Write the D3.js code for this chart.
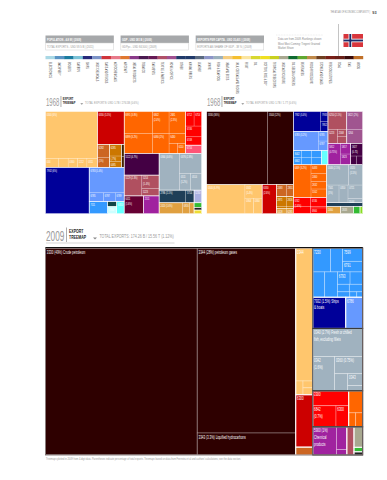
<!DOCTYPE html>
<html>
<head>
<meta charset="utf-8">
<script src="https://cdn.jsdelivr.net/npm/d3@7"></script>
<style>
  html, body { margin: 0; padding: 0; background: #fff; }
  text { font-family: "Liberation Sans", sans-serif; }
</style>
</head>
<body>
<div id="main"></div>
<script>
// community strip under the header boxes
var communities = ["ELECTRONICS", "MACHINERY", "BOILERS", "CARBON", "SHIPS", "MISC CHEMICALS", "CARS AND TRUCKS", "AGROCHEMICALS", "AIRCRAFT", "METAL PRODUCTS", "TOBACCO", "GARMENTS", "TEXTILE & FABRICS", "HOME & OFFICE", "OTHER", "ANIMAL FIBERS", "LEATHER", "MINING", "FISH & SEAFOOD", "MEAT AND EGGS", "MILK, CEREALS AND FLOURS", "FRUIT", "OIL", "COTTON, RICE & SOY", "TROPICAL TREECROPS", "MISC AGRICULTURE", "OIL SEEDS & OTHERS", "BEVERAGES", "FOOD PROCESSING", "STONES AND GLASS", "PRECIOUS STONES", "COAL", "GAS", "WOOD"];
var stripColours = ["#a9d8e5", "#5a94c4", "#1b7ca0", "#7cc3d8", "#26297a", "#7c94c8", "#d0343a", "#e87a8a", "#e07830", "#8a3a8a", "#4a1a50", "#661a55", "#b05068", "#a05090", "#203a6a", "#203a6a", "#5a6a80", "#8c95c8", "#9ab0bc", "#f5cd80", "#f5bf30", "#fbe5a0", "#d8d830", "#f0e020", "#c8d020", "#a8a890", "#0f6a30", "#60a830", "#c08a4a", "#704020", "#7a2018", "#6a2018", "#3a0a0a", "#c07028"];

// treemap blocks
var blockNames = ["oil", "seafood", "darkred", "brown", "ochre", "tan", "tailbrown", "navy", "periwinkle", "blue", "cyan", "palecyan", "deepteal", "orange", "red", "pink", "darkpurple", "maroon", "rose", "mauve", "purple", "grey", "slate", "lavender", "khaki", "green", "lime", "yellow", "nearblack"];
var blockColours = ["#2e0000", "#ffc66d", "#cc0000", "#cc6622", "#cc7700", "#e0a040", "#442200", "#000099", "#6699ff", "#3399ff", "#66ffff", "#ccffff", "#114444", "#ff6600", "#ff0000", "#ff5577", "#440044", "#660033", "#b05060", "#a05590", "#a0229f", "#a0b2bf", "#1f3f58", "#aab0e0", "#a8a890", "#33bb33", "#88dd22", "#eedd33", "#222222"];

// which blocks sit together in the 2009 map
var families2009 = { blue: "m", navy: "m", periwinkle: "m", grey: "g", red: "r", orange: "r", purple: "c", rose: "c", khaki: "c", green: "c", nearblack: "c" };

// entries are [label, value, block] or [block, children]; values are relative export value
var tree1968a = ["", [
  ["", [
    ["", [
      ["seafood", [
        ["0340 (6%)", 220],
        ["", [["034", 10.8], ["", 7.6], ["0360", 7.6], ["1212", 7.6], ["0311", 8.6]]]
      ]],
      ["", [
        ["darkred", [["6330 (5.5%)", 79]]],
        ["", [
          ["brown", [["6282", 14.4], ["(1%)", 10.4]]],
          ["ochre", [["6285", 12.6], ["(.7%)", 5.8], ["0485", 6.5]]],
          ["tailbrown", [["", 3], ["", 2.6]]]
        ]]
      ]]
    ]],
    ["", [
      ["navy", [["7932 (6%)", 182]]],
      ["", [
        ["periwinkle", [["6783 (5.4%)", 80]]],
        ["periwinkle", [["6785", 11.5], ["6787", 9.5], ["6789", 7.2]]],
        ["", [
          ["blue", [["7111", 20]]],
          ["", [["", 4, "deepteal"], ["7264", 5.7, "palecyan"]]],
          ["cyan", [["6350", 8]]]
        ]]
      ]]
    ]]
  ]],
  ["", [
    ["", [
      ["orange", [
        ["", [["6891 (3.8%)", 56], ["6899 (3.2%)", 51]]],
        ["", [
          ["", [["6842|(2.4%)", 33], ["2681|(2.3%)", 33]]],
          ["", [["6480 (2%)", 30], ["", [["6430", 15], ["", [["", 7.5], ["6110", 7.5]]]]]]]
        ]]
      ]],
      ["red", [
        ["", [["6712", 11], ["6714", 10]]],
        ["6746", 15.4],
        ["6748", 12],
        ["6716", 12, "pink"]
      ]]
    ]],
    ["", [
      ["", [
        ["darkpurple", [["5122 (4.7%)", 68]]],
        ["rose", [["5129 (2.3%)", 33], ["", [["5214|(1.4%)", 21], ["5223", 11.4]]]]],
        ["", [
          ["maroon", [["6411|(1.6%)", 31]]],
          ["purple", [["2511", 25]]]
        ]]
      ]],
      ["", [
        ["grey", [
          ["0364 (4.6%)", 67],
          ["", [["0376 (2.8%)", 40], ["", [["0511|(1.2%)", 17], ["0514", 16.5]]]]]
        ]],
        ["", [["2786 (2.1%)", 30.4, "slate"], ["5714", 9.5, "slate"], ["5230", 8.7, "lavender"]]],
        ["", [
          ["tan", [["2420 (1.6%)", 23], ["0816", 7], ["", 4.3]]],
          ["", [["", 3.2, "green"], ["", 1.8, "nearblack"], ["", 2.5, "yellow"]]]
        ]]
      ]]
    ]]
  ]]
]];

var tree1968b = ["", [
  ["", [
    ["oil", [["3330 (36%)", 403], ["3344 (12%)", 169]]],
    ["", [
      ["seafood", [
        ["0340 (6.9%)", 100],
        ["", [["0342|(1.4%)", 21], ["", [["0364", 12], ["0360", 12]]]]]
      ]],
      ["darkred", [["6330|(2.6%)", 37]]],
      ["", [
        ["", [["2483", 11, "brown"], ["2851", 7.5, "brown"]]],
        ["", [["2871", 10.5, "ochre"], ["2826", 7.4, "ochre"]]],
        ["", [["6328", 4.8, "tan"], ["6285", 3.4, "tan"]]]
      ]]
    ]]
  ]],
  ["", [
    ["", [
      ["", [
        ["navy", [["7932 (3.4%)", 49], ["", [["7933", 6.8], ["7852", 6.4]]]]],
        ["periwinkle", [["6783 (3.2%)", 43.5], ["", [["6785", 8.4], ["6787", 8.4]]]]],
        ["", [
          ["blue", [
            ["", [["8442", 5.3], ["6842", 5.3]]],
            ["", [["", 6.3], ["", 6.3]]],
            ["", [["", 6.3], ["", 6.3]]]
          ]],
          ["cyan", [["", 8]]]
        ]]
      ]],
      ["", [
        ["", [["6250 (2.1%)", 30, "rose"], ["5822 (2%)", 26, "mauve"]]],
        ["", [
          ["rose", [["5223", 12], ["", [["2568", 5.9], ["", 5.9]]]]],
          ["mauve", [["5264", 20]]]
        ]],
        ["", [
          ["purple", [["5812|(0.75%)", 24], ["", [["5817", 10], ["5823", 10]]]]],
          ["darkpurple", [["5827|(0.75)", 13.7], ["", [["", 4.7], ["", 4.7]]]]]
        ]]
      ]]
    ]],
    ["", [
      ["", [
        ["orange", [
          ["6469 (3.2%)", 52],
          ["", [["6483", 12.7], ["2460", 11.3], ["2632", 10.3], ["5162", 11.8]]]
        ]],
        ["red", [
          ["6742|(1.6%)", 25.5],
          ["", [["6746", 15.3], ["6900", 8.2]]]
        ]]
      ]],
      ["", [
        ["grey", [
          ["", [["0346 (2.5%)", 40.3], ["0320|(1.5%)", 25.6]]],
          ["", [
            ["7341|(1%)", 19.6],
            ["0350", 14.3],
            ["", [["0721", 17.6], ["5544", 5.7]]]
          ]]
        ]],
        ["slate", [["", 13]]],
        ["", [["2460", 8.8, "tan"], ["2633", 8, "khaki"], ["", 4.2, "green"], ["", 1.7, "lime"]]]
      ]]
    ]]
  ]]
]];

var tree2009 = ["", [
  ["oil", [
    ["3330 (49%) Crude petroleum", 2813],
    ["", [["3344 (28%) petroleum gases", 1632], ["3343 (3.3%) Liquified hydrocarbons", 194]]]
  ]],
  ["", [
    ["seafood", [
      ["0344", 203],
      ["", [["", 9], ["", [["", 6], ["", 6]]]]]
    ]],
    ["darkred", [["6300", 80]]],
    ["brown", [["", 12]]]
  ]],
  ["", [
    ["blue", [
      ["7230", 38], ["", 26],
      ["", [["7599", 24], ["6791", 19]]]
    ]],
    ["blue", [
      ["", 27], ["", 29],
      ["", [
        ["", [["6793", 14], ["", 14]]],
        ["", [["", 8], ["", 9]]],
        ["", [["", 6], ["", 3.4], ["", 2.9]]]
      ]]
    ]],
    ["", [["7932 (1.5%) Ships|& boats", 92, "navy"], ["6786", 47.5, "periwinkle"]]],
    ["grey", [
      ["0340 (2.7%) Fresh or chilled|fish, excluding fillets", 126],
      ["", [
        ["0342|(1.6%)", 67],
        ["", [
          ["0360 (0.75%)", 43],
          ["", [["", 20], ["", [["0343", 16], ["", 7]]]]]
        ]]
      ]]
    ]],
    ["", [
      ["red", [
        ["3300", 48],
        ["", [["6842|(0.7%)", 44], ["6300", 24]]]
      ]],
      ["orange", [
        ["", 27.7],
        ["", [["", 8.8], ["", 8.8]]]
      ]]
    ]],
    ["", [
      ["purple", [
        ["5900 (1%)|Chemical|products", 60],
        ["", [["", 21], ["", 5]]]
      ]],
      ["rose", [["", 18]]],
      ["", [["", 16, "khaki"], ["", 3.5, "green"], ["", 2.5, "nearblack"]]]
    ]]
  ]]
]];

var width = 387;
var height = 480;

var svg = d3.select("#main")
  .append("svg")
  .attr("width", width)
  .attr("height", height)
  .style("display", "block");

var blockColour = d3.scaleOrdinal(blockNames, blockColours);

function pickTile(node, x0, y0, x1, y1) {
  // long side gets cut, the arrays are nested to follow it
  if (x1 - x0 >= y1 - y0) d3.treemapDice(node, x0, y0, x1, y1);
  else d3.treemapSlice(node, x0, y0, x1, y1);
}

// the reference uses a condensed face, none is installed so squeeze around the text's own x
function squeeze(el, k) {
  var s = d3.select(el);
  var first = s.select("tspan");
  var ox = +(s.attr("x") || (first.empty() ? 0 : first.attr("x")) || 0);
  var t = s.attr("transform");
  if (t) s.attr("transform", t + " scale(" + k + ",1)");
  else s.attr("transform", "translate(" + ox + ",0) scale(" + k + ",1) translate(" + (-ox) + ",0)");
}

function box(g, leaves, stroke, sw) {
  g.append("rect")
    .attr("x", d3.min(leaves, d => d.x0))
    .attr("y", d3.min(leaves, d => d.y0))
    .attr("width", d3.max(leaves, d => d.x1) - d3.min(leaves, d => d.x0))
    .attr("height", d3.max(leaves, d => d.y1) - d3.min(leaves, d => d.y0))
    .attr("fill", "none")
    .attr("stroke", stroke)
    .attr("stroke-width", sw);
}

function drawTreemap(tree, x0, y0, x1, y1, fontSize, thick) {
  var root = d3.hierarchy(tree, d => Array.isArray(d[1]) ? d[1] : null)
    .sum(d => typeof d[1] === "number" ? d[1] : 0);

  d3.treemap().tile(pickTile).size([x1 - x0, y1 - y0])(root);

  var g = svg.append("g").attr("transform", "translate(" + x0 + "," + y0 + ")");
  var leaves = root.leaves();

  leaves.forEach(d => {
    d.block = d.data[2] || d.ancestors().map(a => a.data[0]).find(n => blockNames.includes(n));
  });

  g.selectAll("rect.leaf")
    .data(leaves)
    .enter()
    .append("rect")
    .attr("class", "leaf")
    .attr("x", d => d.x0)
    .attr("y", d => d.y0)
    .attr("width", d => d.x1 - d.x0)
    .attr("height", d => d.y1 - d.y0)
    .attr("fill", d => blockColour(d.block))
    .attr("stroke", "rgba(255,255,255,0.35)")
    .attr("stroke-width", thick ? 0.8 : 0.5);

  // white lines around each colour, dark ones around the families
  d3.group(leaves, d => d.block).forEach(list => box(g, list, "rgba(255,255,255,0.75)", thick ? 1 : 0.5));
  if (thick) {
    d3.group(leaves.filter(d => families2009[d.block]), d => families2009[d.block])
      .forEach(list => box(g, list, "#3a3a3a", 1));
  }

  var labels = g.selectAll("text.cell")
    .data(leaves.filter(d => d.data[0] !== ""))
    .enter()
    .append("text")
    .attr("class", "cell")
    .attr("font-size", fontSize)
    .attr("fill", "#fff");

  labels.each(function (d) {
    d3.select(this).selectAll("tspan")
      .data(d.data[0].split("|"))
      .enter()
      .append("tspan")
      .attr("x", d.x0 + 1.3)
      .attr("y", (t, i) => d.y0 + fontSize + 0.6 + i * (fontSize + 1.6))
      .text(t => t);
    squeeze(this, thick ? 0.6 : 0.62);
  });

  g.append("rect")
    .attr("width", x1 - x0)
    .attr("height", y1 - y0)
    .attr("fill", "none")
    .attr("stroke", thick ? "#6f6060" : "none")
    .attr("stroke-width", 0.8);
}

function sectionHead(x, y, year, total, big) {
  var k = big ? 1 : 0.73;
  var g = svg.append("g").attr("transform", "translate(" + x + "," + y + ")");
  var yr = g.append("text").attr("x", 0).attr("y", 0).attr("font-size", 15 * k).attr("fill", "#9a9a9a").text(year);
  g.append("line").attr("x1", 20.5 * k).attr("x2", 20.5 * k).attr("y1", -13 * k).attr("y2", 1.5)
    .attr("stroke", "#777").attr("stroke-width", 0.6);
  var a = g.append("text").attr("x", 23 * k).attr("y", -7.6 * k).attr("font-size", 4.9 * k).attr("font-weight", "bold").attr("fill", "#222").text("EXPORT");
  var b = g.append("text").attr("x", 23 * k).attr("y", -1.6 * k).attr("font-size", 4.9 * k).attr("font-weight", "bold").attr("fill", "#222").text("TREEMAP");
  g.append("path").attr("d", d3.line()([[47 * k, -3 * k], [51 * k, -3 * k], [49 * k, -1 * k]])).attr("fill", "#888");
  var c = g.append("text").attr("x", 53.5 * k).attr("y", -2.5 * k).attr("font-size", 6 * k).attr("fill", "#9a9a9a").text(total);
  squeeze(yr.node(), 0.55);
  squeeze(a.node(), 0.72);
  squeeze(b.node(), 0.72);
  squeeze(c.node(), 0.6);
  if (big) {
    g.append("line").attr("x1", 0).attr("x2", 128.5).attr("y1", 2.5).attr("y2", 2.5)
      .attr("stroke", "#aaa").attr("stroke-width", 0.5);
  }
}

// page title
var pageTitle = svg.append("text").attr("x", 370).attr("y", 13.5).attr("text-anchor", "end").attr("font-size", 3.2).attr("fill", "#888")
  .text("THE ATLAS OF ECONOMIC COMPLEXITY |");
squeeze(pageTitle.node(), 0.62);
svg.append("text").attr("x", 376.5).attr("y", 13.5).attr("text-anchor", "end").attr("font-size", 3.8).attr("font-weight", "bold").attr("fill", "#444")
  .text("93");

// header boxes
var headerTop = ["POPULATION - 4.8 M | (2009)", "GDP - USD 381 B | (2009)", "EXPORTS PER CAPITA - USD 35,401 | (2009)"];
var headerBottom = ["TOTAL EXPORTS - USD 59.5 B | (2011)", "GDPpc - USD 84,500 | (2009)", "EXPORTS AS SHARE OF GDP - 38 % | (2009)"];
var boxX = d3.scaleBand().domain(d3.range(3)).range([45.5, 264]).paddingInner(0.09);

headerTop.forEach((t, i) => {
  var x = boxX(i);
  var w = boxX.bandwidth();
  svg.append("rect").attr("x", x).attr("y", 35.5).attr("width", w).attr("height", 7.5).attr("fill", "#a6a8aa");
  svg.append("rect").attr("x", x + 0.25).attr("y", 43).attr("width", w - 0.5).attr("height", 7).attr("fill", "#fff").attr("stroke", "#d0d0d0").attr("stroke-width", 0.5);
  var a = svg.append("text").attr("x", x + 1.5).attr("y", 40.8).attr("font-size", 4.2).attr("font-weight", "bold").attr("fill", "#fff").text(t);
  var b = svg.append("text").attr("x", x + 1.5).attr("y", 48).attr("font-size", 4.2).attr("fill", "#999").text(headerBottom[i]);
  squeeze(a.node(), 0.6);
  squeeze(b.node(), 0.62);
});

// note next to the flag
svg.append("line").attr("x1", 276).attr("x2", 323).attr("y1", 35).attr("y2", 35).attr("stroke", "#ddd").attr("stroke-width", 0.5).attr("stroke-dasharray", "1,0.6");
["Data are from 2009. Rankings shown", "Most Most Coming: Tingent Grained", "Market Share"].forEach((t, i) => {
  var n = svg.append("text").attr("x", 278).attr("y", 40 + i * 4.6).attr("font-size", 4).attr("fill", "#888").text(t);
  squeeze(n.node(), 0.66);
});

svg.append("line").attr("x1", 338.5).attr("x2", 338.5).attr("y1", 24).attr("y2", 56).attr("stroke", "#aaa").attr("stroke-width", 0.7);

// flag of Norway
var flag = svg.append("g").attr("transform", "translate(343.5,34)");
flag.append("rect").attr("width", 19.5).attr("height", 13).attr("fill", "#d8353c");
flag.append("rect").attr("x", 5).attr("width", 3.6).attr("height", 13).attr("fill", "#f3f0f0");
flag.append("rect").attr("y", 4.7).attr("width", 19.5).attr("height", 3.6).attr("fill", "#f3f0f0");
flag.append("rect").attr("x", 5.9).attr("width", 1.8).attr("height", 13).attr("fill", "#1c2a6a");
flag.append("rect").attr("y", 5.6).attr("width", 19.5).attr("height", 1.8).attr("fill", "#1c2a6a");

// colour strip
var stripX = d3.scaleBand().domain(communities).range([45.5, 363]);
svg.selectAll("rect.strip")
  .data(communities)
  .enter()
  .append("rect")
  .attr("class", "strip")
  .attr("x", d => stripX(d))
  .attr("y", 56)
  .attr("width", stripX.bandwidth() + 0.2)
  .attr("height", 3.2)
  .attr("fill", (d, i) => stripColours[i]);

svg.selectAll("text.strip")
  .data(communities)
  .enter()
  .append("text")
  .attr("class", "strip")
  .attr("font-size", 3.4)
  .attr("fill", "#444")
  .attr("transform", d => "translate(" + (stripX(d) + stripX.bandwidth() / 2 - 1.2) + ",62) rotate(90)")
  .text(d => d)
  .each(function () { squeeze(this, 0.66); });

// section titles and maps
sectionHead(46, 105.5, "1968", "TOTAL EXPORTS: USD 1.7B / 276.5B (0.6%)", false);
sectionHead(207, 105.5, "1968", "TOTAL EXPORTS: USD 1.7B / 1.7T (0.6%)", false);
sectionHead(46, 240.5, "2009", "TOTAL EXPORTS: 174.26 B / 15.56 T (1.12%)", true);

drawTreemap(tree1968a, 45.5, 111.5, 201.7, 213.7, 3.6, false);
drawTreemap(tree1968b, 206.7, 111.5, 362.7, 213.7, 3.6, false);
drawTreemap(tree2009, 45.5, 248, 362.7, 455, 5, true);

svg.append("line").attr("x1", 45.5).attr("x2", 362.7).attr("y1", 247.5).attr("y2", 247.5).attr("stroke", "#111").attr("stroke-width", 1);

// footnote
svg.append("text").attr("x", 46).attr("y", 460).attr("font-size", 3.8).attr("fill", "#999")
  .attr("textLength", 195).attr("lengthAdjust", "spacingAndGlyphs")
  .text("Treemaps plotted in 2009 from 4-digit data. Parentheses indicate percentage of total exports. Treemaps based on data from Feenstra et al and authors' calculations, see the data section.");
</script>
</body>
</html>
